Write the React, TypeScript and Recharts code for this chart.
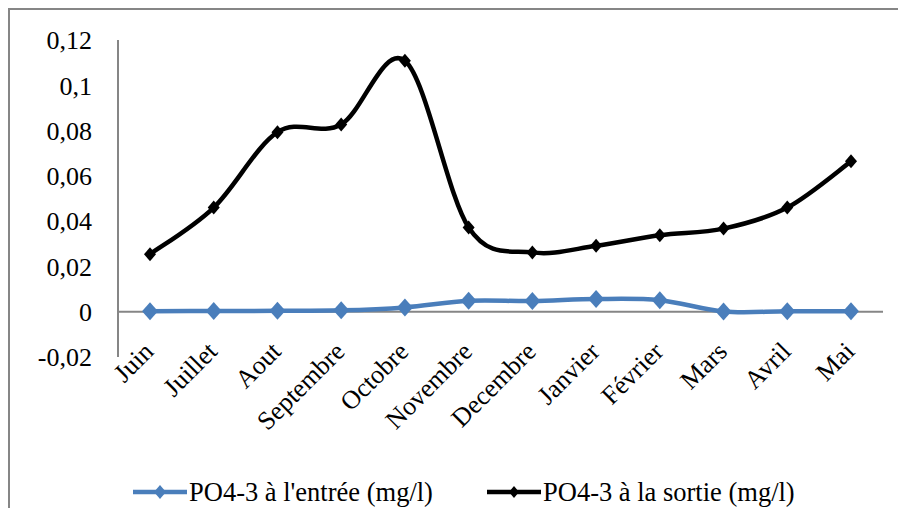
import { LineChart, Line, XAxis, YAxis, ReferenceLine } from "recharts";

const months = [
  "Juin", "Juillet", "Aout", "Septembre", "Octobre", "Novembre",
  "Decembre", "Janvier", "Février", "Mars", "Avril", "Mai",
];
const entree = [0.0002, 0.0003, 0.0004, 0.0006, 0.0019, 0.0048, 0.0047, 0.0056, 0.0051, 0.0001, 0.0002, 0.0002];
const sortie = [0.0254, 0.046, 0.0793, 0.0827, 0.1108, 0.0372, 0.0262, 0.0291, 0.0338, 0.0367, 0.046, 0.0664];
const yTicks = [-0.02, 0, 0.02, 0.04, 0.06, 0.08, 0.1, 0.12];
const seriesNames = ["PO4-3 à l'entrée (mg/l)", "PO4-3 à la sortie (mg/l)"];

const data = months.map((m, i) => ({ month: m, entree: entree[i], sortie: sortie[i] }));

const FONT = "Liberation Serif, DejaVu Serif, serif";
const BLUE = "#4a7ebb";
const GREY = "#868686";

// Excel-like smoothing (Catmull-Rom through each point)
function excelSmooth(context: any) {
  let pts: number[][] = [];
  return {
    areaStart() {},
    areaEnd() {},
    lineStart() {
      pts = [];
    },
    lineEnd() {
      const n = pts.length;
      if (!n) return;
      context.moveTo(pts[0][0], pts[0][1]);
      for (let i = 0; i < n - 1; i++) {
        const p0 = pts[i === 0 ? 0 : i - 1];
        const p1 = pts[i];
        const p2 = pts[i + 1];
        const p3 = pts[i + 2 < n ? i + 2 : n - 1];
        context.bezierCurveTo(
          p1[0] + (p2[0] - p0[0]) / 6,
          p1[1] + (p2[1] - p0[1]) / 6,
          p2[0] - (p3[0] - p1[0]) / 6,
          p2[1] - (p3[1] - p1[1]) / 6,
          p2[0],
          p2[1]
        );
      }
    },
    point(x: number, y: number) {
      pts.push([+x, +y]);
    },
  };
}

const diamond = (color: string, hw: number, hh: number) => (props: any) => {
  const { cx, cy, index } = props;
  if (cx == null || cy == null) return <g key={index} />;
  return (
    <path
      key={index}
      d={`M${cx},${cy - hh}L${cx + hw},${cy}L${cx},${cy + hh}L${cx - hw},${cy}Z`}
      fill={color}
    />
  );
};

const MonthTick = (props: any) => {
  const { x, y, payload } = props;
  return (
    <text
      transform={`translate(${x + 5},${y - 6}) rotate(-45)`}
      textAnchor="end"
      fontFamily={FONT}
      fontSize={26}
      fill="#000"
    >
      {payload.value}
    </text>
  );
};

const LegendIcon = ({ color, hw, hh }: { color: string; hw: number; hh: number }) => (
  <svg width={54} height={20} style={{ display: "block" }}>
    <line x1={0} y1={10} x2={54} y2={10} stroke={color} strokeWidth={4.5} strokeLinecap="round" />
    <path d={`M27,${10 - hh}L${27 + hw},10L27,${10 + hh}L${27 - hw},10Z`} fill={color} />
  </svg>
);

export default function App() {
  const legendItems = [
    { name: seriesNames[0], color: BLUE, left: 123, hw: 6, hh: 7 },
    { name: seriesNames[1], color: "#000", left: 477, hw: 5, hh: 6 },
  ];
  return (
    <div
      style={{
        position: "relative",
        width: 888,
        height: 498,
        borderLeft: `2px solid ${GREY}`,
        borderTop: `2px solid ${GREY}`,
        background: "#fff",
      }}
    >
      <LineChart
        width={888}
        height={498}
        data={data}
        margin={{ top: 30, right: 15, bottom: 51, left: 0 }}
      >
        <XAxis
          dataKey="month"
          height={100}
          axisLine={false}
          tickLine={false}
          tickSize={0}
          interval={0}
          padding={{ left: 32, right: 32 }}
          tick={<MonthTick />}
        />
        <YAxis
          width={108}
          domain={[-0.02, 0.12]}
          ticks={yTicks}
          tickLine={false}
          tickSize={0}
          tickMargin={26}
          axisLine={{ stroke: GREY, strokeWidth: 2 }}
          tickFormatter={(v: number) => String(v).replace(".", ",")}
          tick={{ fontFamily: FONT, fontSize: 26, fill: "#000" }}
        />
        <ReferenceLine y={0} stroke={GREY} strokeWidth={2} />
        <Line
          dataKey="entree"
          name={seriesNames[0]}
          type={excelSmooth as any}
          stroke={BLUE}
          strokeWidth={4.5}
          dot={diamond(BLUE, 8, 9)}
          activeDot={false}
          isAnimationActive={false}
        />
        <Line
          dataKey="sortie"
          name={seriesNames[1]}
          type={excelSmooth as any}
          stroke="#000"
          strokeWidth={4.5}
          dot={diamond("#000", 6, 7)}
          activeDot={false}
          isAnimationActive={false}
        />
      </LineChart>
      {legendItems.map((it) => (
        <div
          key={it.name}
          style={{
            position: "absolute",
            left: it.left,
            top: 467,
            height: 30,
            display: "flex",
            alignItems: "center",
            gap: 2,
            fontFamily: FONT,
            fontSize: 26.5,
            color: "#000",
            whiteSpace: "nowrap",
          }}
        >
          <LegendIcon color={it.color} hw={it.hw} hh={it.hh} />
          <span>{it.name}</span>
        </div>
      ))}
    </div>
  );
}
